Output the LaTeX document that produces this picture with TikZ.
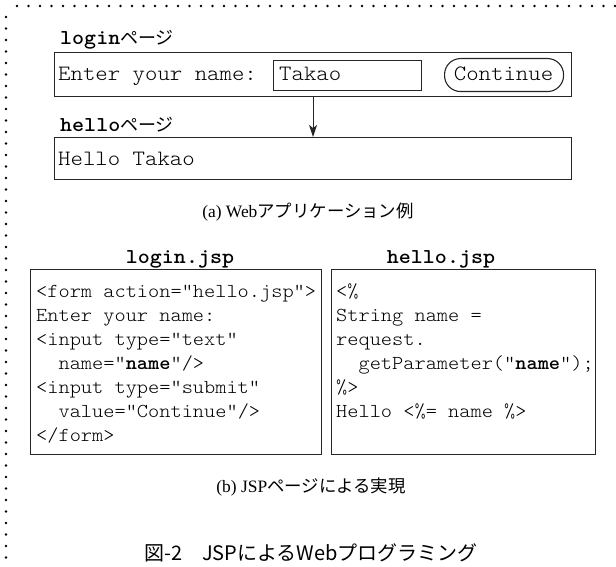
\documentclass[tikz,border=0pt]{standalone}
\usepackage{fontspec}
\setmainfont{Liberation Serif}
\newfontfamily\cmono{lmmonolt10-regular.otf}[BoldFont=lmmonolt10-bold.otf, FakeStretch=1.08]
\newfontfamily\jpfont{Noto Sans CJK JP}
\usetikzlibrary{arrows.meta}

\tikzset{
  frame/.style={draw=black!85, line width=1.1pt, inner sep=0pt, anchor=north west},
  uitext/.style={font=\cmono\fontsize{21.9}{24}\selectfont, inner sep=0pt, anchor=base west},
  codeline/.style={font=\cmono\fontsize{19.75}{24}\selectfont, inner sep=0pt, anchor=base west},
  pagelabel/.style={font=\cmono\bfseries\fontsize{21.2}{24}\selectfont, inner sep=0pt, anchor=base west},
  filelabel/.style={font=\cmono\bfseries\fontsize{21.2}{24}\selectfont, inner sep=0pt, anchor=base},
  subcap/.style={font=\fontsize{17.4}{20}\selectfont, inner sep=0pt, anchor=base},
  figcap/.style={font=\jpfont\fontsize{20}{24}\selectfont, inner sep=0pt, anchor=base},
  dotrule/.style={line width=2.8pt, line cap=round, dash pattern=on 0pt off 11.5pt, black},
  flow/.style={line width=1.1pt, black!85, -{Stealth[length=12pt,width=8pt,inset=3pt]}},
}
\newcommand{\jp}[1]{{\mdseries\jpfont\fontsize{18}{22}\selectfont #1}}

\begin{document}
\begin{tikzpicture}[x=1pt,y=-1pt]
\useasboundingbox (0,0) rectangle (616,567);

% dotted frame along the top and left edges
\draw[dotrule] (17,6) -- (616,6);
\draw[dotrule] (6,17) -- (6,567);

% (a) browser pages
\node[pagelabel] (loginlabel) at (60,45) {login\jp{ページ}};
\node[frame, minimum width=517pt, minimum height=44pt] (loginbox) at (54,52) {};
\node[uitext] (prompt) at (58,81) {Enter your name:};
\node[frame, minimum width=148pt, minimum height=30pt] (namefield) at (273,60) {};
\node[uitext] (typed) at (279,81) {Takao};
\node[frame, rounded corners=16pt, minimum width=119pt, minimum height=33pt] (continue) at (444,58) {};
\node[uitext, anchor=base] (btntext) at (503.5,81) {Continue};

\node[pagelabel] (hellolabel) at (60,132) {hello\jp{ページ}};
\node[frame, minimum width=517pt, minimum height=42pt] (hellobox) at (54,137) {};
\node[uitext] (greeting) at (58,165) {Hello Takao};

\draw[flow] (loginbox.south) -- (hellobox.north);

\node[subcap] (capa) at (308,217) {(a) Web{\jpfont アプリケーション例}};

% (b) JSP sources
\node[filelabel] (loginjsp) at (180,263) {login.jsp};
\node[filelabel] (hellojsp) at (441,263) {hello.jsp};
\node[frame, minimum width=291pt, minimum height=185pt] (logincode) at (30,269) {};
\node[frame, minimum width=264pt, minimum height=185pt] (hellocode) at (331,269) {};

\foreach \t [count=\i from 0] in {
  {<form action="hello.jsp">},
  {Enter your name:},
  {<input type="text"},
  {\phantom{xx}name="\textbf{name}"/>},
  {<input type="submit"},
  {\phantom{xx}value="Continue"/>},
  {</form>}}
  \node[codeline] (lc\i) at (36,297+24*\i) {\t};

\foreach \t [count=\i from 0] in {
  {<\%},
  {String name =},
  {request.},
  {\phantom{xx}getParameter("\textbf{name}");},
  {\%>},
  {Hello <\%= name \%>}}
  \node[codeline] (hc\i) at (336,297+24*\i) {\t};

\node[subcap] (capb) at (311,492) {(b) JSP{\jpfont ページによる実現}};

\node[figcap] (figcap) at (311,560) {図-2\hspace{1em}JSPによるWebプログラミング};
\end{tikzpicture}
\end{document}
